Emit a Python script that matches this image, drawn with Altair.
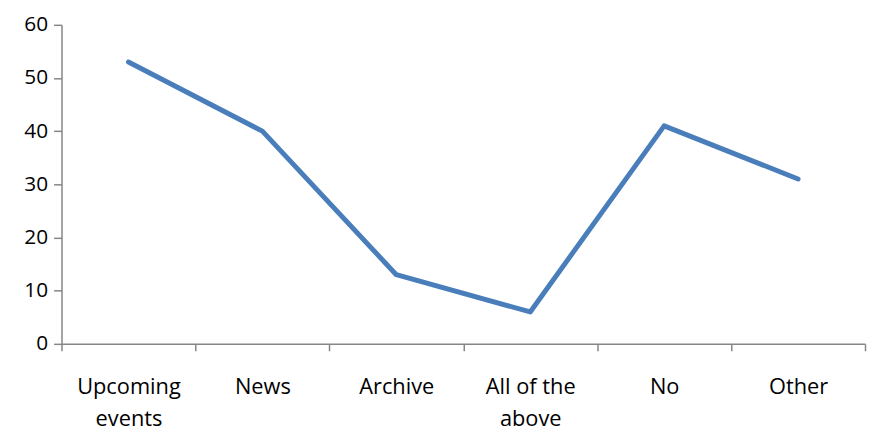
import altair as alt
import pandas as pd

categories = ["Upcoming events", "News", "Archive", "All of the above", "No", "Other"]
values = [53, 40, 13, 6, 41, 31]

df = pd.DataFrame({"cat": categories, "val": values})

label_expr = ("datum.label == 'Upcoming events' ? ['Upcoming', 'events'] : "
              "datum.label == 'All of the above' ? ['All of the', 'above'] : datum.label")

chart = alt.Chart(df).mark_line(color="#4a7ebb", strokeWidth=5, strokeCap="round", strokeJoin="round").encode(
    x=alt.X("cat:N", sort=categories, title=None,
            scale=alt.Scale(type="band", paddingInner=0, paddingOuter=0),
            bandPosition=0.5,
            axis=alt.Axis(labelAngle=0, tickBand="extent", labelExpr=label_expr,
                          labelPadding=26, labelLineHeight=32, labelFontSize=22,
                          labelFont="Open Sans", labelColor="#000000",
                          domainColor="#868686", tickColor="#868686", tickSize=7,
                          domainWidth=1.5, tickWidth=1.5)),
    y=alt.Y("val:Q", title=None,
            scale=alt.Scale(domain=[0, 60], nice=False),
            axis=alt.Axis(values=[0, 10, 20, 30, 40, 50, 60], grid=False,
                          labelFontSize=21, labelFont="Open Sans", labelColor="#000000",
                          labelPadding=6, tickSize=8,
                          domainColor="#868686", tickColor="#868686",
                          domainWidth=1.5, tickWidth=1.5)),
).properties(
    width=811, height=322,
    autosize=alt.AutoSizeParams(type="none"),
    padding={"left": 54, "top": 15, "right": 2, "bottom": 88},
).configure_view(stroke=None)

chart.save("out.html", embed_options={"renderer": "svg", "actions": False})
